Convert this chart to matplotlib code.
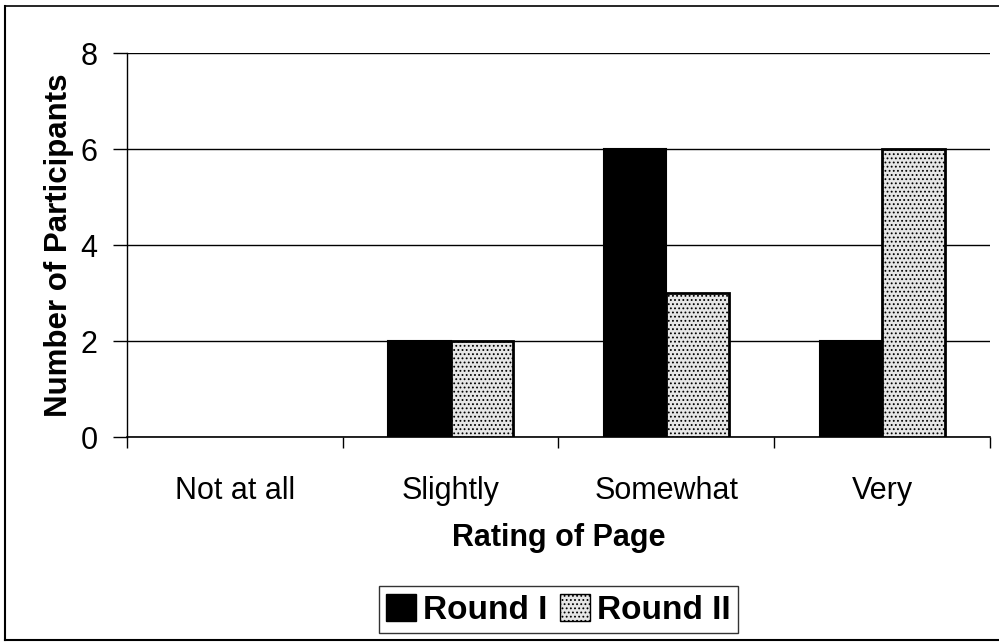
import numpy as np
import matplotlib
matplotlib.use('Agg')
import matplotlib.pyplot as plt
import matplotlib.lines as l
from matplotlib.patches import Patch

categories = ['Not at all', 'Slightly', 'Somewhat', 'Very']
round1 = [0, 2, 6, 2]
round2 = [0, 2, 3, 6]

plt.rcParams['font.family'] = ['Liberation Sans', 'DejaVu Sans']
plt.rcParams['hatch.color'] = '#8a8a8a'
plt.rcParams['hatch.linewidth'] = 0.8

fig = plt.figure(figsize=(9.99, 6.42), dpi=100, facecolor='white')
ax = fig.add_axes([0.127, 0.3193, 0.864, 0.5981])

x = np.arange(len(categories))
w = 0.29
edge1 = ['black' if v > 0 else 'none' for v in round1]
edge2 = ['black' if v > 0 else 'none' for v in round2]
ax.bar(x - w/2, round1, w, color='black', edgecolor=edge1, linewidth=1.5, zorder=3)
ax.bar(x + w/2, round2, w, color='#e6e6e6', edgecolor=edge2, linewidth=2,
       hatch='....', zorder=3)

ax.set_xlim(-0.5, 3.5)
ax.set_ylim(0, 8)
ax.set_yticks([0, 2, 4, 6, 8])
ax.yaxis.grid(True, color='black', linewidth=1)
ax.set_axisbelow(True)
for s in ['top', 'right']:
    ax.spines[s].set_visible(False)
ax.spines['left'].set_linewidth(1)
ax.spines['bottom'].set_linewidth(1.2)

ax.set_xticks(np.arange(-0.5, 4, 1), minor=False)
ax.set_xticklabels([])
ax.set_xticks(x, minor=True)
ax.set_xticklabels(categories, minor=True, fontsize=22)
ax.tick_params(axis='x', which='minor', length=0, pad=28)
ax.tick_params(axis='x', which='major', direction='out', length=8, width=1)
ax.tick_params(axis='y', direction='out', length=10, width=1, labelsize=22, pad=11)

ax.set_xlabel('Rating of Page', fontsize=22, fontweight='bold', labelpad=12)
ax.set_ylabel('Number of Participants', fontsize=22.5, fontweight='bold', labelpad=5)

handles = [Patch(facecolor='black', edgecolor='black', label='Round I'),
           Patch(facecolor='#e6e6e6', edgecolor='black', hatch='....', label='Round II')]
fig.legend(handles=handles, loc='center', bbox_to_anchor=(0.559, 0.05), ncol=2,
           prop={'weight': 'bold', 'size': 24}, frameon=True, fancybox=False,
           edgecolor='black', handlelength=0.9, handleheight=0.9,
           handletextpad=0.2, columnspacing=0.4, borderpad=0.22, borderaxespad=0)

# outer frame
fig.add_artist(l.Line2D([0.005, 0.005], [0.003, 0.99], color='black', linewidth=1.5))
fig.add_artist(l.Line2D([0.005, 1.0], [0.99, 0.99], color='black', linewidth=1.2))
fig.add_artist(l.Line2D([0.005, 1.0], [0.003, 0.003], color='black', linewidth=1.5))

plt.savefig('out.png', dpi=100)
